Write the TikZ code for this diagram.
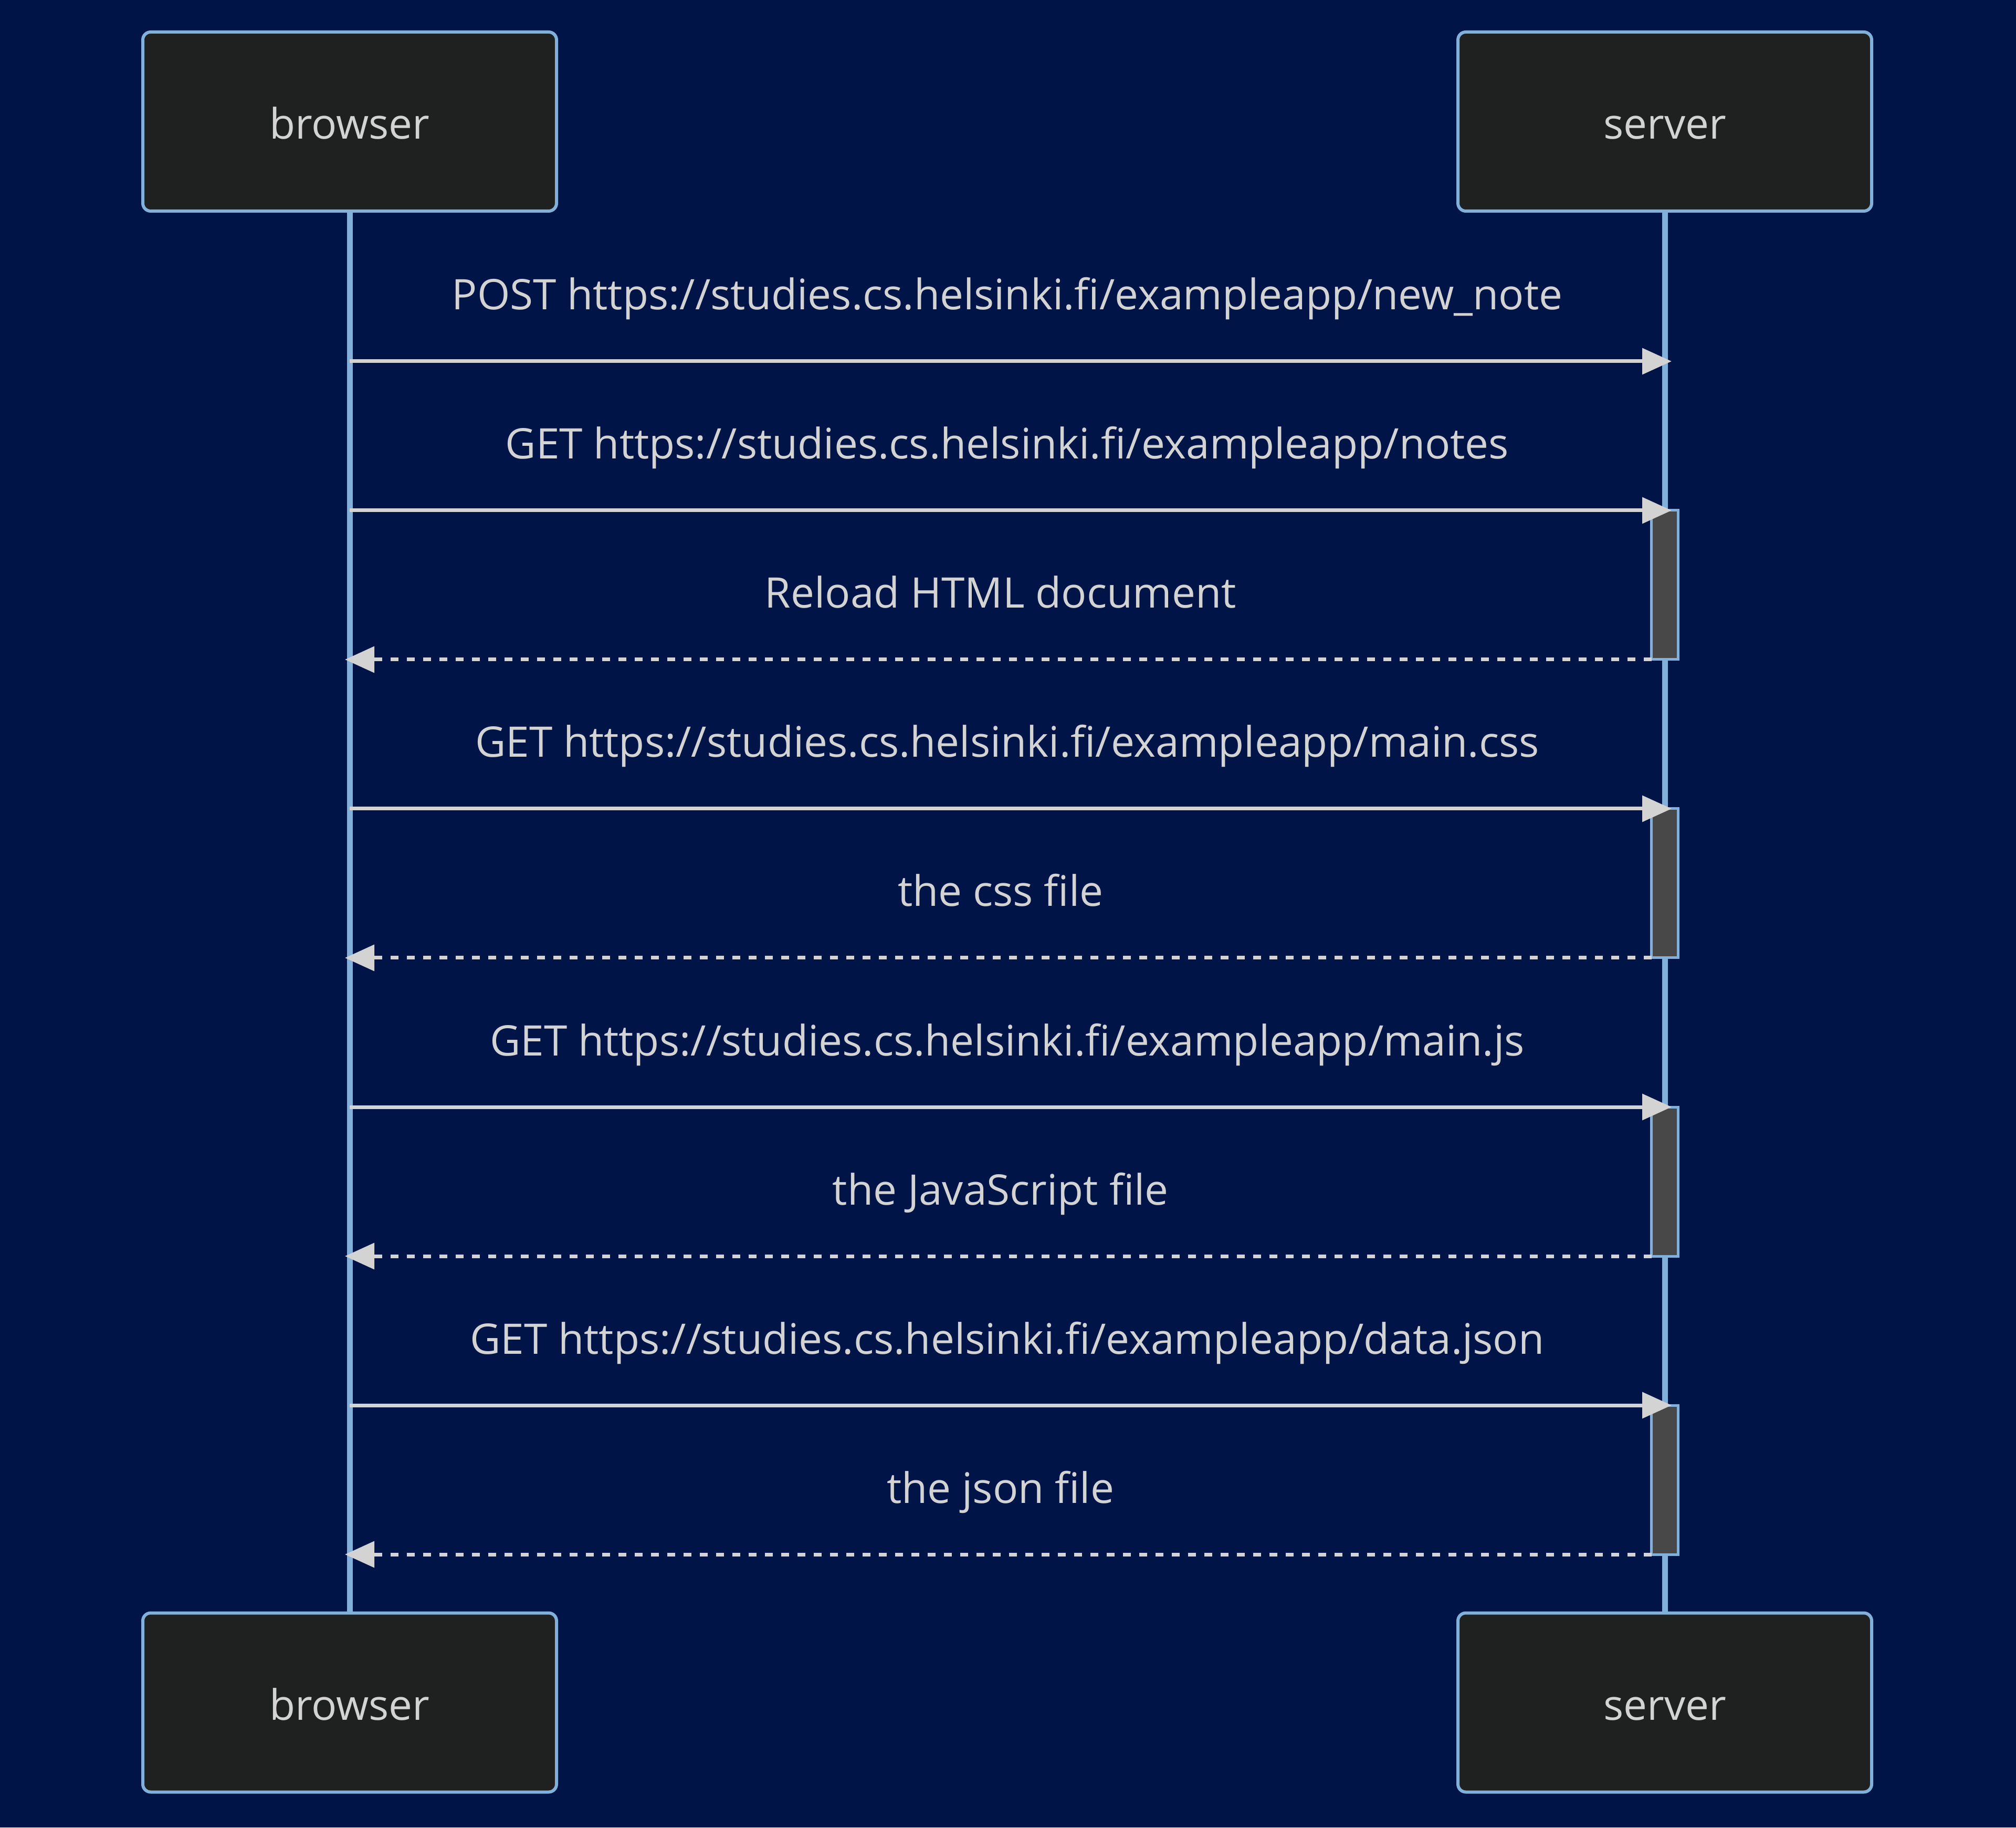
\documentclass[tikz,border=0pt]{standalone}
\usepackage{fontspec}
\setmainfont{Open Sans}
\usetikzlibrary{arrows.meta, positioning, calc, fit}
\definecolor{bgNavy}{HTML}{001447}
\definecolor{actorFill}{HTML}{1F2020}
\definecolor{actorLine}{HTML}{81B1DB}
\definecolor{msgGrey}{HTML}{D3D3D3}
\definecolor{actFill}{HTML}{484848}
\newcommand{\msgfont}{\fontsize{22.8}{27}\selectfont}
\tikzset{
    actor/.style={draw=actorLine, line width=0.6mm, fill=actorFill, rounded corners=1.5mm,
        minimum width=7.88cm, minimum height=3.41cm, inner sep=0pt, outer sep=0pt,
        text=msgGrey, font=\msgfont, text height=0.66cm, text depth=0pt},
    lifeline/.style={actorLine, line width=1.1mm},
    activation/.style={draw=actorLine, line width=0.5mm, fill=actFill,
        minimum width=0.51cm, inner sep=0pt, outer sep=0pt},
    msg/.style={msgGrey, line width=0.7mm, -{Triangle[length=5.6mm, width=4.9mm]}},
    reply/.style={msg, dash pattern=on 1.5mm off 1.6mm},
    msglabel/.style={text=msgGrey, font=\msgfont, anchor=base, inner sep=0pt}
}

\begin{document}
\begin{tikzpicture}
    % --- CANVAS ---
    \fill[bgNavy] (0,0) rectangle (38.4,34.8);
    \useasboundingbox (0,0) rectangle (38.4,34.8);

    % --- ACTORS ---
    \node[actor] (bTop) at (6.66, 32.485) {browser};
    \node[actor] (sTop) at (31.71, 32.485) {server};
    \node[actor] (bBot) at (6.66, 2.38) {browser};
    \node[actor] (sBot) at (31.71, 2.38) {server};

    % Lifelines
    \draw[lifeline] (bTop.south) -- (bBot.north);
    \draw[lifeline] (sTop.south) -- (sBot.north);

    % Message rows on both lifelines
    \foreach \i in {1,...,9} {
        \coordinate (b\i) at ($(bTop.south) + (0, -2.86 - \i*2.84 + 2.84)$);
        \coordinate (s\i) at ($(sTop.south) + (0, -2.86 - \i*2.84 + 2.84)$);
    }

    % --- ACTIVATIONS ---
    \foreach \a/\z in {2/3, 4/5, 6/7, 8/9} {
        \node[activation, fit=(s\a)(s\z)] (act\z) {};
    }

    % --- REQUESTS ---
    \foreach \i/\txt in {1/{POST https://studies.cs.helsinki.fi/exampleapp/new\_note},
                         2/{GET https://studies.cs.helsinki.fi/exampleapp/notes},
                         4/{GET https://studies.cs.helsinki.fi/exampleapp/main.css},
                         6/{GET https://studies.cs.helsinki.fi/exampleapp/main.js},
                         8/{GET https://studies.cs.helsinki.fi/exampleapp/data.json}} {
        \draw[msg, shorten >=-1.3mm] (b\i) -- (s\i);
        \node[msglabel] (m\i) at ($(b\i)!0.5!(s\i) + (0, 0.98)$) {\txt};
    }

    % --- REPLIES ---
    \foreach \i/\txt in {3/Reload HTML document, 5/the css file,
                         7/the JavaScript file, 9/the json file} {
        \draw[reply, shorten >=-0.9mm] (act\i.south west) -- (b\i);
        \node[msglabel] (m\i) at ($(b\i)!0.5!(act\i.south west) + (0, 0.98)$) {\txt};
    }
\end{tikzpicture}
\end{document}
